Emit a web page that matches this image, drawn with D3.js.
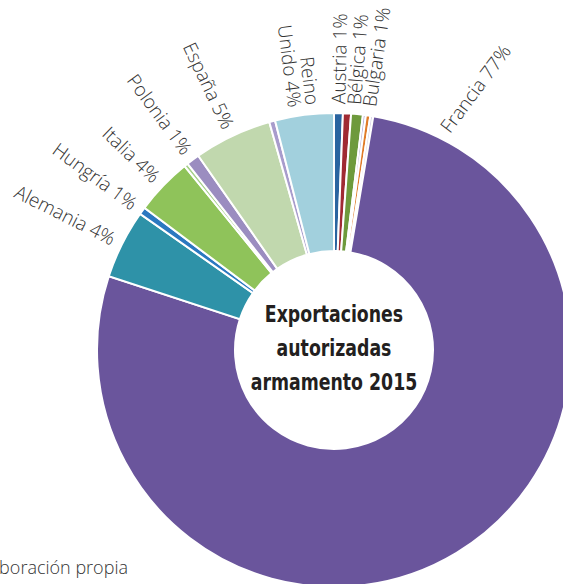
<!DOCTYPE html>
<meta charset="utf-8">
<style>
body { margin: 0; background: #fff; }
.etiqueta {
  font-family: "Open Sans", "Liberation Sans", sans-serif;
  font-weight: 300;
  font-size: 19px;
  fill: #333;
}
.titulo {
  font-family: "Liberation Sans Narrow", "DejaVu Sans Condensed", sans-serif;
  font-weight: bold;
  font-size: 23.5px;
  fill: #231f20;
}
.fuente {
  font-family: "Open Sans", "Liberation Sans", sans-serif;
  font-weight: 300;
  font-size: 18px;
  fill: #333;
}
</style>
<svg width="563" height="584"></svg>
<script src="https://d3js.org/d3.v7.min.js"></script>
<script>
// pie order clockwise from 12 o'clock, values in % of total
var paises = ["Austria", "Bélgica", "Bulgaria", "otro1", "otro2", "otro3", "Francia",
  "Alemania", "Hungría", "Italia", "otro4", "Polonia", "España", "otro5", "Reino Unido"];
var valores = [0.6, 0.55, 0.8, 0.2, 0.3, 0.2, 77.35, 4.7, 0.5, 3.9, 0.25, 0.9, 5.3, 0.4, 4.0];
// percentage printed on the label (null = no label)
var etiquetaPct = [1, 1, 1, null, null, null, 77, 4, 1, 4, null, 1, 5, null, 4];
var colores = ["#2a64a0", "#a02a33", "#6e9a3c", "#b3a8d3", "#e07b28", "#d9d2e6", "#6a559c",
  "#2e92a8", "#2b78c0", "#8fc35a", "#a6d08a", "#9b8dc0", "#c1d8ae", "#a89ccc", "#a2d0dd"];
var titulo = ["Exportaciones", "autorizadas", "armamento 2015"];

var svg = d3.select("svg"),
    cx = 334, cy = 350,
    rOut = 237, rIn = 99;

var datos = paises.map(function(p, i) {
  return {pais: p, valor: valores[i], pct: etiquetaPct[i], color: colores[i]};
});

var pie = d3.pie().sort(null).value(function(d) { return d.valor; });
var arc = d3.arc().innerRadius(rIn).outerRadius(rOut);

var g = svg.append("g").attr("transform", "translate(" + cx + "," + cy + ")");

var arcos = pie(datos);

g.selectAll("path")
  .data(arcos)
  .enter().append("path")
    .attr("d", arc)
    .attr("fill", function(d) { return d.data.color; })
    .attr("stroke", "#fff")
    .attr("stroke-width", 2)
    .attr("stroke-linejoin", "miter");

g.append("circle")
  .attr("r", rIn)
  .attr("fill", "#fff");

// label angles: centroid, big slice near its start, small ones pushed apart
var conEtiqueta = arcos.filter(function(d) { return d.data.pct != null; });
conEtiqueta.forEach(function(d) {
  d.grande = d.data.valor > 50;
  if (d.grande) d.ang = d.startAngle + 0.3;
  else d.ang = (d.startAngle + d.endAngle) / 2;
});
var minSep = 3.6 * Math.PI / 180;
for (var i = 1; i < conEtiqueta.length; i++) {
  if (conEtiqueta[i].ang - conEtiqueta[i - 1].ang < minSep)
    conEtiqueta[i].ang = conEtiqueta[i - 1].ang + minSep;
}

var rLab = rOut + 9;
var labels = g.selectAll("text.etiqueta")
  .data(conEtiqueta)
  .enter().append("text")
    .attr("class", "etiqueta")
    .attr("transform", function(d) {
      var x = rLab * Math.sin(d.ang), y = -rLab * Math.cos(d.ang);
      var deg = d.ang * 180 / Math.PI;
      var rot = d.ang < Math.PI ? deg - 90 : deg + 90;
      if (d.grande) rot += 10;
      return "translate(" + x + "," + y + ") rotate(" + rot + ")";
    })
    .attr("text-anchor", function(d) { return d.ang < Math.PI ? "start" : "end"; });

labels.each(function(d) {
  var t = d3.select(this);
  var partes = d.data.pais.split(" ");
  if (partes.length > 1) {
    t.append("tspan").attr("x", 0).attr("dy", "-0.15em").text(partes[0]);
    t.append("tspan").attr("x", 0).attr("dy", "0.95em").text(partes.slice(1).join(" ") + " " + d.data.pct + "%");
  } else {
    t.attr("dy", "0.35em").text(d.data.pais + " " + d.data.pct + "%");
  }
});

// centre title (condensed bold look)
var gt = g.append("g").attr("transform", "scale(0.82,1)");
gt.selectAll("text.titulo")
  .data(titulo)
  .enter().append("text")
    .attr("class", "titulo")
    .attr("text-anchor", "middle")
    .attr("x", 0)
    .attr("y", function(d, i) { return -28 + i * 34; })
    .text(function(d) { return d; });

svg.append("text")
  .attr("class", "fuente")
  .attr("x", 128)
  .attr("y", 574)
  .attr("text-anchor", "end")
  .text("Fuente: elaboración propia");
</script>
